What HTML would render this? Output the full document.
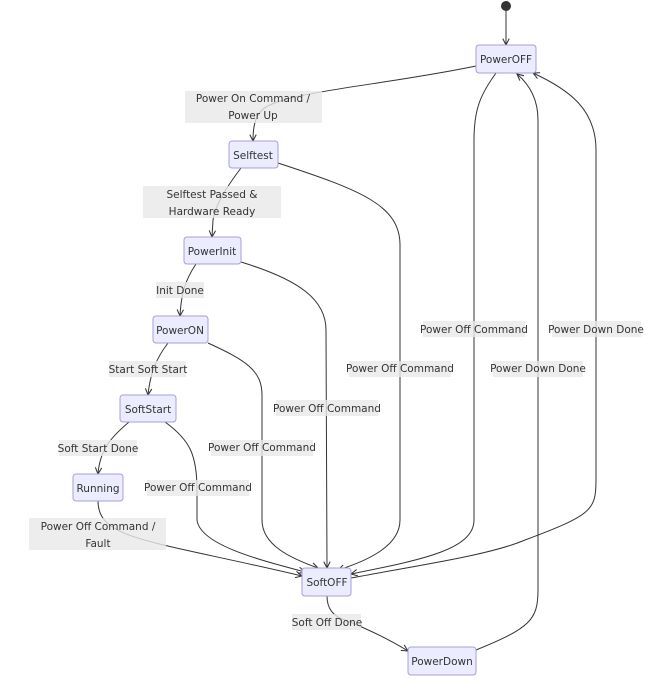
<!DOCTYPE html>
<html><head><meta charset="utf-8"><style>
html,body{margin:0;padding:0;background:#fff;}
svg{display:block;}
text{font-family:"DejaVu Sans","Liberation Sans",sans-serif;font-size:10.5px;fill:#333;}
.n{fill:#ECECFF;stroke:#a89be0;stroke-width:1;}
.e{fill:none;stroke:#333;stroke-width:1;}
.lb{fill:#e8e8e8;opacity:0.8;}
</style></head><body>
<svg width="650" height="692" viewBox="0 0 650 692" xmlns="http://www.w3.org/2000/svg">
<defs>
<marker id="a" viewBox="0 0 10 10" refX="9" refY="5" markerWidth="8" markerHeight="8" orient="auto-start-reverse">
<path d="M1,1 L9,5 L1,9" fill="none" stroke="#333" stroke-width="1.3"/>
</marker>
</defs>
<circle cx="506" cy="6" r="5" fill="#333"/>
<path class="e" d="M506,11 L506,45" marker-end="url(#a)"/>
<path class="e" d="M476,66 C380,86 280,92 262,110 C254,118 253,130 253,141" marker-end="url(#a)"/>
<path class="e" d="M241,168 C228,185 215,205 213,220 L212,237" marker-end="url(#a)"/>
<path class="e" d="M196,264 C185,280 181,295 180,316" marker-end="url(#a)"/>
<path class="e" d="M168,343 C155,360 150,375 148,395" marker-end="url(#a)"/>
<path class="e" d="M129,422 C110,438 100,450 98,474" marker-end="url(#a)"/>
<path class="e" d="M98,501 C98,540 150,540 302,576" marker-end="url(#a)"/>
<path class="e" d="M165,422 C190,440 197,455 197,490 L197,520 C200,545 260,560 305,572" marker-end="url(#a)"/>
<path class="e" d="M208,343 C245,360 262,370 262,395 L262,520 C262,545 290,558 318,568" marker-end="url(#a)"/>
<path class="e" d="M241,262 C300,280 326,300 326,330 L327,568" marker-end="url(#a)"/>
<path class="e" d="M278,163 C360,190 400,205 400,245 L400,520 C400,545 370,560 338,570" marker-end="url(#a)"/>
<path class="e" d="M496,73 C480,95 474,110 474,140 L474,520 C474,550 420,560 351,574" marker-end="url(#a)"/>
<path class="e" d="M351,578 C420,565 490,555 525,540 C592,515 596,510 596,480 L596,150 C596,110 570,90 533,73" marker-end="url(#a)"/>
<path class="e" d="M476,650 C530,628 538,620 538,590 L538,120 C538,100 530,85 517,74" marker-end="url(#a)"/>
<path class="e" d="M327,596 C327,610 335,617 345,620 C370,630 390,640 408,651" marker-end="url(#a)"/>
<rect class="lb" x="185" y="91" width="137" height="32"/>
<text x="253" y="102" text-anchor="middle">Power On Command /</text>
<text x="253" y="119" text-anchor="middle">Power Up</text>
<rect class="lb" x="143" y="186" width="138" height="32"/>
<text x="212" y="198" text-anchor="middle">Selftest Passed &amp;</text>
<text x="212" y="215" text-anchor="middle">Hardware Ready</text>
<rect class="lb" x="156" y="282" width="48" height="16"/>
<text x="180" y="294" text-anchor="middle">Init Done</text>
<rect class="lb" x="109" y="361" width="77" height="16"/>
<text x="148" y="373" text-anchor="middle">Start Soft Start</text>
<rect class="lb" x="59" y="440" width="78" height="16"/>
<text x="98" y="452" text-anchor="middle">Soft Start Done</text>
<rect class="lb" x="29" y="518" width="137" height="32"/>
<text x="98" y="530" text-anchor="middle">Power Off Command /</text>
<text x="98" y="547" text-anchor="middle">Fault</text>
<rect class="lb" x="147" y="480" width="102" height="16"/>
<text x="198" y="491" text-anchor="middle">Power Off Command</text>
<rect class="lb" x="211" y="440" width="102" height="16"/>
<text x="262" y="451" text-anchor="middle">Power Off Command</text>
<rect class="lb" x="276" y="400" width="102" height="16"/>
<text x="327" y="412" text-anchor="middle">Power Off Command</text>
<rect class="lb" x="349" y="361" width="102" height="16"/>
<text x="400" y="372" text-anchor="middle">Power Off Command</text>
<rect class="lb" x="423" y="321" width="102" height="16"/>
<text x="474" y="333" text-anchor="middle">Power Off Command</text>
<rect class="lb" x="493" y="361" width="90" height="16"/>
<text x="538" y="372" text-anchor="middle">Power Down Done</text>
<rect class="lb" x="552" y="321" width="89" height="16"/>
<text x="596" y="333" text-anchor="middle">Power Down Done</text>
<rect class="lb" x="292" y="614" width="69" height="16"/>
<text x="327" y="626" text-anchor="middle">Soft Off Done</text>
<rect class="n" x="476" y="45" width="60" height="28" rx="3"/>
<text x="506" y="63" text-anchor="middle">PowerOFF</text>
<rect class="n" x="229" y="141" width="49" height="27" rx="3"/>
<text x="253" y="159" text-anchor="middle">Selftest</text>
<rect class="n" x="184" y="237" width="57" height="27" rx="3"/>
<text x="212" y="255" text-anchor="middle">PowerInit</text>
<rect class="n" x="153" y="316" width="55" height="27" rx="3"/>
<text x="180" y="334" text-anchor="middle">PowerON</text>
<rect class="n" x="120" y="395" width="56" height="27" rx="3"/>
<text x="148" y="413" text-anchor="middle">SoftStart</text>
<rect class="n" x="73" y="474" width="50" height="27" rx="3"/>
<text x="98" y="492" text-anchor="middle">Running</text>
<rect class="n" x="302" y="568" width="49" height="28" rx="3"/>
<text x="327" y="586" text-anchor="middle">SoftOFF</text>
<rect class="n" x="408" y="647" width="68" height="28" rx="3"/>
<text x="442" y="665" text-anchor="middle">PowerDown</text>
</svg>
</body></html>
